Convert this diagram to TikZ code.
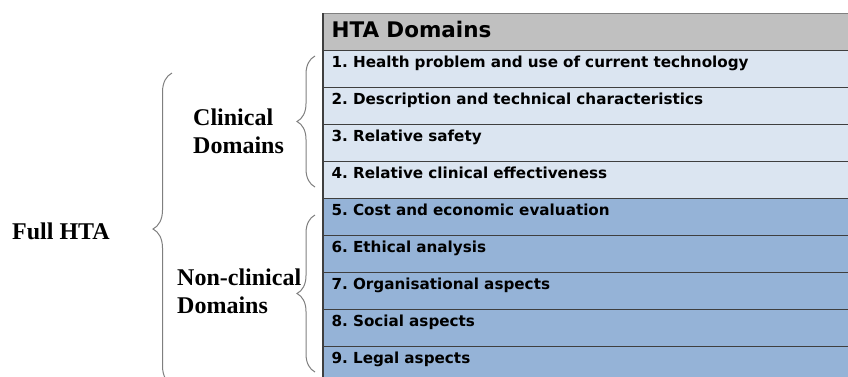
\documentclass[tikz,border=0pt]{standalone}
\usepackage{fontspec}
\setmainfont{Liberation Serif}
\newfontfamily\tabfont{DejaVu Sans}
\usetikzlibrary{positioning,decorations.pathreplacing}
\definecolor{hdgray}{HTML}{C0C0C0}
\definecolor{lightrow}{HTML}{DBE5F1}
\definecolor{darkrow}{HTML}{95B3D7}
\definecolor{rowline}{HTML}{3F3F3F}
\definecolor{bracegray}{HTML}{7F7F7F}
\frenchspacing

\begin{document}
\begin{tikzpicture}[x=1pt, y=-1pt, node distance=37pt, on grid,
    cell/.style={draw=rowline, line width=1.3pt, inner xsep=8pt, inner ysep=0pt,
        text width=524pt, minimum height=37pt, align=left},
    hdr/.style={cell, fill=hdgray, draw=gray, text height=24pt, text depth=13pt,
        font=\tabfont\bfseries\fontsize{21.5}{22}\selectfont},
    lrow/.style={cell, fill=lightrow, text height=17pt, text depth=20pt,
        font=\tabfont\bfseries\fontsize{15.2}{16}\selectfont},
    drow/.style={lrow, fill=darkrow},
    lbl/.style={anchor=west, inner sep=0pt, align=left,
        font=\bfseries\fontsize{24}{28}\selectfont},
    brc/.style={draw=bracegray, line width=1pt, decorate,
        decoration={brace, amplitude=#1}}]
    \clip (0,0) rectangle (848,376);
    \node[hdr, anchor=north west] (hd) at (323,13) {HTA Domains};
    \node[lrow] (r1) [below=of hd] {1. Health problem and use of current technology};
    \node[lrow] (r2) [below=of r1] {2. Description and technical characteristics};
    \node[lrow] (r3) [below=of r2] {3. Relative safety};
    \node[lrow] (r4) [below=of r3] {4. Relative clinical effectiveness};
    \node[drow] (r5) [below=of r4] {5. Cost and economic evaluation};
    \node[drow] (r6) [below=of r5] {6. Ethical analysis};
    \node[drow] (r7) [below=of r6] {7. Organisational aspects};
    \node[drow] (r8) [below=of r7] {8. Social aspects};
    \node[drow] (r9) [below=of r8] {9. Legal aspects};
    \draw[rowline, line width=2pt] (hd.north west) -- (r9.south west);

    \node[lbl] (full) at (12,231) {Full HTA};
    \node[lbl] (clin) at (193,131) {Clinical\\Domains};
    \node[lbl] (nonclin) at (177,291) {Non-clinical\\Domains};

    \coordinate (fulltop) at (172,73);
    \coordinate (fullbot) at (172,385);
    \coordinate (clintop) at (315,56);
    \coordinate (clinbot) at (315,187);
    \coordinate (nontop) at (315,215);
    \coordinate (nonbot) at (315,372);
    \draw[brc=19pt] (fullbot) -- (fulltop);
    \draw[brc=18pt] (clinbot) -- (clintop);
    \draw[brc=18pt] (nonbot) -- (nontop);
\end{tikzpicture}
\end{document}
